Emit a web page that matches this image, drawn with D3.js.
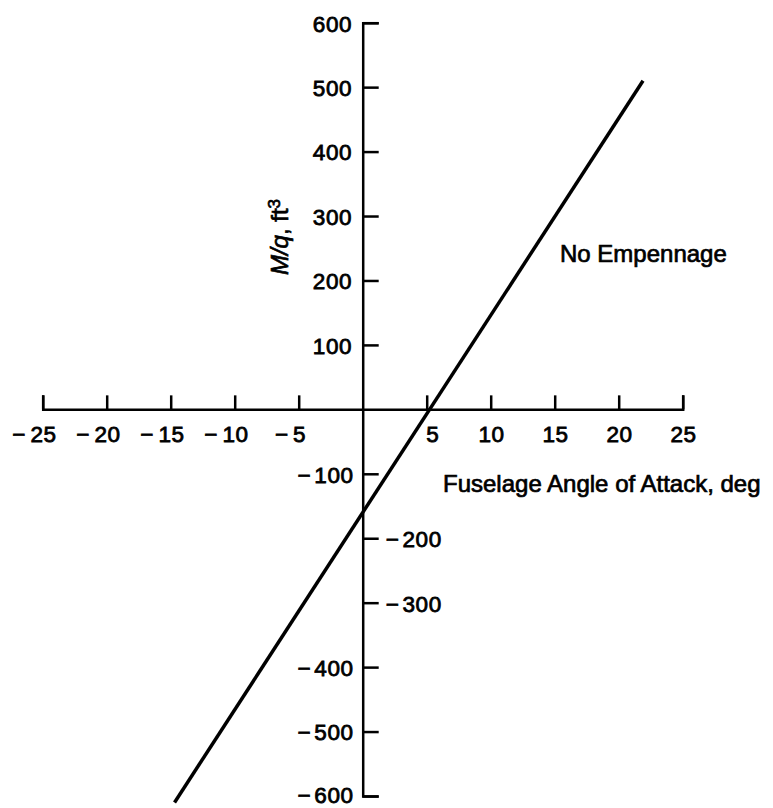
<!DOCTYPE html>
<html><head><meta charset="utf-8">
<script src="https://cdn.jsdelivr.net/npm/d3@7"></script>
<style>body{margin:0;background:#fff} svg{display:block}</style>
</head><body><svg id="c" width="773" height="808"></svg>
<script>
// ---- data ----
const xTicks = [-25, -20, -15, -10, -5, 5, 10, 15, 20, 25];
const yTicks = [600, 500, 400, 300, 200, 100, -100, -200, -300, -400, -500, -600];
const yLabelsRightSide = [-200, -300];
const lineX = [-14.7, 21.9];
const lineY = [-610, 510];
const xTitle = "Fuselage Angle of Attack, deg";
const seriesLabel = "No Empennage";

// ---- drawing ----
const W = 773, H = 808, ink = "#000";
const numFont = "'Liberation Sans', Arial, Helvetica, sans-serif";
const svg = d3.select("#c");
svg.append("rect").attr("width", W).attr("height", H).attr("fill", "#fff");

const x = d3.scaleLinear().domain([-25, 25]).range([42.7, 682.7]);
const y = d3.scaleLinear().domain([-600, 600]).range([796, 22.7]);
const y0 = y(0), x0 = x(0);

function styleNum(g) {
  g.attr("font-family", numFont).attr("font-size", 22.5)
   .attr("letter-spacing", 0.6).attr("stroke", ink).attr("stroke-width", 0.8);
}

// x axis
const gx = svg.append("g").attr("transform", `translate(0,${y0})`)
  .call(d3.axisBottom(x).tickValues(xTicks).tickSize(-14).tickSizeOuter(-14)
    .tickFormat(d => Math.abs(d)));
styleNum(gx);
gx.select(".domain").attr("stroke", ink).attr("stroke-width", 2.5);
gx.selectAll(".tick line").attr("stroke", ink).attr("stroke-width", 2.5);
gx.selectAll(".tick text").attr("fill", ink).attr("y", 442 - y0).attr("dy", 0)
  .attr("text-anchor", "middle")
  .attr("x", d => d === 5 ? 5.5 : 0.3);
gx.selectAll(".tick").each(function(d) {
  if (d < 0) {
    const t = d3.select(this).select("text");
    const w = t.node().getComputedTextLength();
    d3.select(this).append("text").attr("fill", ink)
      .attr("text-anchor", "end").attr("y", 442 - y0)
      .attr("x", -w / 2 - 4).text("\u2212");
  }
});

// y axis
const gy = svg.append("g").attr("transform", `translate(${x0},0)`)
  .call(d3.axisLeft(y).tickValues(yTicks).tickSize(-16).tickSizeOuter(-16)
    .tickFormat(d => Math.abs(d)));
styleNum(gy);
gy.select(".domain").attr("stroke", ink).attr("stroke-width", 2.5);
gy.selectAll(".tick line").attr("stroke", ink).attr("stroke-width", 2.5);
gy.selectAll(".tick text").each(function(d) {
  const t = d3.select(this);
  const digits = String(Math.abs(d));
  t.text(null).attr("fill", ink).attr("dy", d === -600 ? "0.3em" : "0.37em");
  if (d < 0) {
    t.append("tspan").text("\u2212");
    t.append("tspan").attr("dx", 3).text(digits);
  } else {
    t.append("tspan").text(digits);
  }
  if (yLabelsRightSide.includes(d)) {
    t.attr("text-anchor", "start").attr("x", 23);
  } else {
    t.attr("text-anchor", "end").attr("x", d > 0 ? -10.5 : -9);
  }
});

// data line
svg.append("path").datum(d3.zip(lineX, lineY))
  .attr("fill", "none").attr("stroke", ink).attr("stroke-width", 3.5)
  .attr("d", d3.line().x(d => x(d[0])).y(d => y(d[1])));

// titles
const txtFont = "'Liberation Sans', Arial, Helvetica, sans-serif";
function styleTxt(t) {
  t.attr("font-family", txtFont).attr("font-size", 24).attr("fill", ink)
   .attr("stroke", ink).attr("stroke-width", 0.7);
}
svg.append("text").attr("x", 443).attr("y", 492).call(styleTxt).text(xTitle);
svg.append("text").attr("x", 560).attr("y", 261.5).call(styleTxt).text(seriesLabel);

const yt = svg.append("text").attr("transform", "translate(287.5,237) rotate(-90)")
  .attr("text-anchor", "middle").call(styleTxt);
yt.append("tspan").attr("font-style", "italic").text("M/q");
yt.append("tspan").text(", ft");
yt.append("tspan").attr("font-size", 17).attr("dy", -8).text("3");
</script></body></html>
